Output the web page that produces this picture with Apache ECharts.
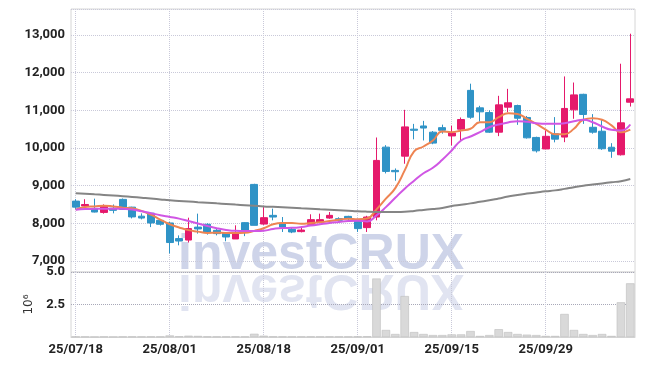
<!DOCTYPE html>
<html>
<head>
<meta charset="utf-8">
<script src="https://cdn.jsdelivr.net/npm/echarts@6/dist/echarts.min.js"></script>
<style>
  html, body { margin: 0; padding: 0; background: #fff; }
  #chart { width: 645px; height: 366px; }
</style>
</head>
<body>
<div id="chart"></div>
<script>
// trading days shown on the category axis
var dates = [
  '25/07/18','25/07/21','25/07/22','25/07/23','25/07/24','25/07/25','25/07/28','25/07/29','25/07/30','25/07/31',
  '25/08/01','25/08/04','25/08/05','25/08/06','25/08/07','25/08/08','25/08/11','25/08/12','25/08/13','25/08/14',
  '25/08/18','25/08/19','25/08/20','25/08/21','25/08/22','25/08/25','25/08/26','25/08/27','25/08/28','25/08/29',
  '25/09/01','25/09/02','25/09/03','25/09/04','25/09/05','25/09/08','25/09/09','25/09/10','25/09/11','25/09/12',
  '25/09/15','25/09/16','25/09/17','25/09/18','25/09/19','25/09/22','25/09/23','25/09/24','25/09/25','25/09/26',
  '25/09/29','25/09/30','25/10/01','25/10/02','25/10/10','25/10/13','25/10/14','25/10/15','25/10/16','25/10/17'
];

// price candles
var opens = [8590,8460,8390,8290,8400,8636,8430,8190,8270,8080,
  8010,7595,7556,7900,7975,7815,7743,7585,8018,9033,
  7981,8212,8008,7841,7780,7975,8027,8140,8124,8185,
  8100,7886,8167,10023,9405,9783,10500,10585,10420,10540,
  10320,10500,11530,11066,10940,10420,11084,11127,10810,10280,
  9975,10377,10290,11013,11425,10550,10445,10020,9820,11215];
var closes = [8430,8500,8300,8450,8345,8370,8170,8140,8010,7975,
  7490,7530,7860,7850,7770,7727,7637,7727,7815,7947,
  8150,8167,7900,7770,7822,8098,8098,8212,8080,8124,
  7860,8167,9670,9378,9370,10560,10470,10530,10130,10470,
  10400,10756,10817,10960,10420,11145,11200,10790,10270,9925,
  10310,10235,11050,11410,10890,10420,9980,9915,10668,11305];
var lows = [8370,8400,8290,8257,8265,8370,8130,8105,7900,7940,
  7200,7416,7490,7727,7700,7680,7523,7585,7660,7947,
  7960,8080,7770,7740,7760,7975,8010,8120,8040,8050,
  7770,7770,8080,9325,9131,9582,10230,10200,10100,10380,
  10067,10172,10775,10700,10400,10315,10950,10615,10250,9880,
  9975,10150,10155,10775,10640,10380,9950,9740,9800,11100];
var highs = [8640,8640,8655,8503,8500,8660,8440,8265,8280,8100,
  8035,7680,8150,8257,8000,7850,7760,7947,8030,9050,
  8432,8390,8167,7900,7880,8240,8257,8300,8160,8200,
  8124,8200,10279,10075,9457,11013,10640,10720,10450,10620,
  10590,10810,11707,11120,11000,11385,11570,11150,10850,10300,
  10470,10820,11900,11738,11440,10900,10750,10128,12237,13034];

// moving averages
var ma5 = [8363,8432,8450,8470,8450,8416,8400,8330,8230,8100,
  7975,7890,7820,7780,7745,7750,7745,7745,7750,7800,
  7870,7975,8008,8008,7990,8008,8027,8060,8098,8124,
  8110,8130,8371,8654,8936,9405,9908,10040,10200,10438,
  10420,10465,10510,10685,10685,10817,10923,10905,10775,10640,
  10490,10365,10365,10510,10750,10790,10750,10600,10420,10490];
var ma20 = [8363,8380,8385,8390,8390,8385,8370,8320,8270,8215,
  8170,8125,8060,7995,7930,7870,7825,7800,7795,7797,
  7805,7850,7876,7880,7900,7940,7975,8008,8035,8060,
  8070,8050,8212,8430,8680,8920,9130,9330,9476,9688,
  9935,10200,10306,10420,10552,10624,10677,10711,10694,10658,
  10641,10641,10658,10711,10748,10685,10570,10482,10465,10624];
var ma60 = [8800,8785,8770,8755,8738,8720,8700,8680,8660,8635,
  8610,8595,8580,8562,8546,8530,8515,8498,8482,8466,
  8450,8438,8426,8414,8402,8390,8376,8362,8348,8334,
  8320,8310,8303,8300,8302,8310,8330,8355,8380,8410,
  8460,8495,8530,8570,8610,8660,8710,8755,8790,8820,
  8850,8875,8915,8960,9000,9030,9060,9090,9120,9175];

// volume, millions of shares
var volumes = [0.02,0.02,0.01,0.02,0.01,0.02,0.03,0.02,0.03,0.02,
  0.12,0.05,0.10,0.08,0.04,0.03,0.03,0.04,0.03,0.25,
  0.10,0.04,0.03,0.02,0.02,0.03,0.02,0.03,0.02,0.02,
  0.04,0.05,4.50,0.54,0.23,3.15,0.38,0.23,0.15,0.15,
  0.20,0.20,0.46,0.08,0.15,0.60,0.38,0.23,0.18,0.15,
  0.08,0.08,1.77,0.54,0.23,0.15,0.23,0.08,2.67,4.13];

var candles = [];
for (var i = 0; i < dates.length; i++) {
  candles.push([opens[i], closes[i], lows[i], highs[i]]);
}

var upColor = '#e5196b';
var downColor = '#2f93c6';
var labelFont = "Roboto, sans-serif";
var gridLine = { show: true, lineStyle: { color: '#c9c9d9', type: 'dotted', width: 1 } };

var chart = echarts.init(document.getElementById('chart'));
var option = {
  animation: false,
  backgroundColor: '#fff',
  graphic: [
    {
      type: 'text', x: 178, y: 272, z: 0, silent: true,
      style: {
        text: 'investCRUX', x: 0, y: -42, textVerticalAlign: 'top',
        font: "bold 50px 'Liberation Sans', sans-serif",
        fill: 'rgba(190,197,226,0.75)'
      }
    },
    {
      type: 'text', x: 178, y: 272, scaleY: -1, z: 0, silent: true,
      style: {
        text: 'investCRUX', x: 0, y: -42, textVerticalAlign: 'top',
        font: "bold 50px 'Liberation Sans', sans-serif",
        fill: 'rgba(200,206,230,0.55)'
      }
    }
  ],
  grid: [
    { left: 71, right: 10, top: 9, height: 263, show: true, borderColor: '#d6d6d6', borderWidth: 1 },
    { left: 71, right: 10, top: 272, height: 65, show: true, borderColor: '#d6d6d6', borderWidth: 1 }
  ],
  xAxis: [
    {
      type: 'category', gridIndex: 0, data: dates, boundaryGap: true,
      axisLine: { show: false }, axisTick: { show: false }, axisLabel: { show: false },
      splitLine: { show: true, interval: 9, alignWithLabel: true, lineStyle: gridLine.lineStyle }
    },
    {
      type: 'category', gridIndex: 1, data: dates, boundaryGap: true,
      axisLine: { show: true, lineStyle: { color: '#d6d6d6' } },
      axisTick: { show: false },
      axisLabel: {
        interval: 9, margin: 6, color: '#222',
        fontFamily: labelFont, fontWeight: 'bold', fontSize: 13
      },
      splitLine: { show: true, interval: 9, alignWithLabel: true, lineStyle: gridLine.lineStyle }
    }
  ],
  yAxis: [
    {
      type: 'value', gridIndex: 0, min: 6708, max: 13690, splitNumber: 7,
      axisLine: { show: false }, axisTick: { show: false },
      axisLabel: {
        showMinLabel: false, showMaxLabel: false, margin: 6, color: '#222',
        fontFamily: labelFont, fontWeight: 'bold', fontSize: 13,
        formatter: function (v) { return v.toLocaleString('en-US'); }
      },
      splitLine: gridLine
    },
    {
      type: 'value', gridIndex: 1, min: 0, max: 5, interval: 2.5,
      name: '10⁶', nameLocation: 'middle', nameRotate: 90, nameGap: 36,
      nameTextStyle: { color: '#333', fontSize: 12, fontFamily: "'DejaVu Sans', sans-serif" },
      axisLine: { show: false }, axisTick: { show: false },
      axisLabel: {
        showMinLabel: false, margin: 6, color: '#222',
        fontFamily: labelFont, fontWeight: 'bold', fontSize: 13,
        formatter: function (v) { return v.toFixed(1); }
      },
      splitLine: { show: true, lineStyle: { color: '#a8a8b8', type: 'dotted' } }
    }
  ],
  series: [
    {
      name: 'Volume', type: 'bar', xAxisIndex: 1, yAxisIndex: 1, data: volumes,
      barCategoryGap: '10%',
      itemStyle: { color: '#d9d9d9', borderColor: '#bdbdbd', borderWidth: 0.6 }
    },
    {
      name: 'Price', type: 'candlestick', xAxisIndex: 0, yAxisIndex: 0, data: candles,
      barWidth: '76%',
      itemStyle: { color: upColor, color0: downColor, borderColor: upColor, borderColor0: downColor, borderWidth: 1 }
    },
    {
      name: 'MA5', type: 'line', data: ma5, smooth: true, symbol: 'none',
      lineStyle: { color: '#ee8452', width: 2 }
    },
    {
      name: 'MA20', type: 'line', data: ma20, smooth: true, symbol: 'none',
      lineStyle: { color: '#d056e4', width: 2 }
    },
    {
      name: 'MA60', type: 'line', data: ma60, smooth: true, symbol: 'none',
      lineStyle: { color: '#858585', width: 2 }
    }
  ]
};
chart.setOption(option);
</script>
</body>
</html>
